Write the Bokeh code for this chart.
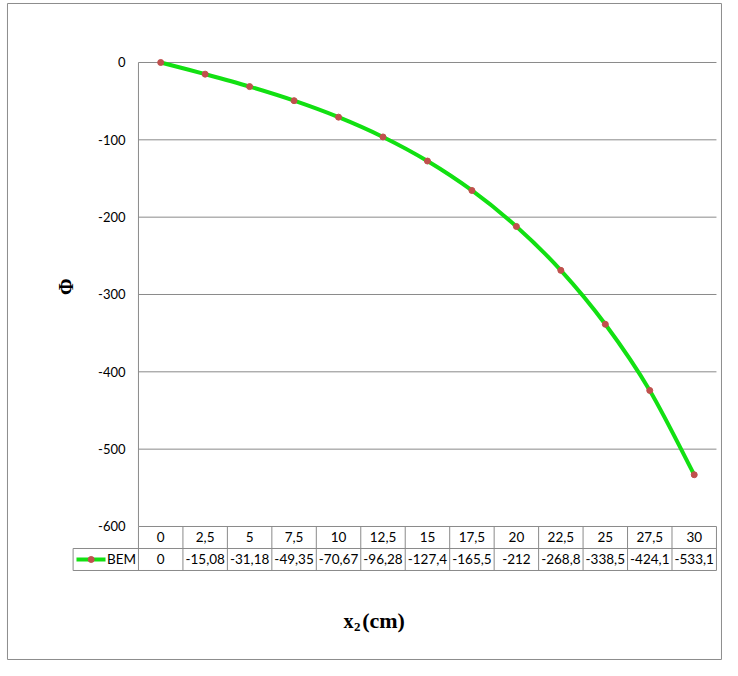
import numpy as np
from bokeh.plotting import figure
from bokeh.models import Range1d
from bokeh.embed import file_html
from bokeh.resources import INLINE
from bokeh.core.properties import value

# ---- data ----
x_cm = [0, 2.5, 5, 7.5, 10, 12.5, 15, 17.5, 20, 22.5, 25, 27.5, 30]
bem = [0, -15.08, -31.18, -49.35, -70.67, -96.28, -127.4, -165.5, -212,
       -268.8, -338.5, -424.1, -533.1]
y_ticks = [0, -100, -200, -300, -400, -500, -600]
series_name = "BEM"
y_title = "Φ"
x_title_main = "x"
x_title_sub = "2"
x_title_unit = "(cm)"


def fmt(v):
    return f"{v:g}".replace(".", ",")


n = len(x_cm)
idx = np.arange(n, dtype=float)
y = np.array(bem, dtype=float)

GREEN = "#12e012"
MARK = "#c0504d"
GRID = "#8a8a8a"
FONT = value("Lato")
SERIF = value("Liberation Serif")

p = figure(width=722, height=660,
           x_range=Range1d(-3.603, 12.636), y_range=Range1d(-773.3, 80.17),
           x_axis_type=None, y_axis_type=None,
           output_backend="svg", toolbar_location=None,
           min_border=0, min_border_left=0, min_border_right=0,
           min_border_top=0, min_border_bottom=0)
p.outline_line_color = None
p.background_fill_color = "white"
p.border_fill_color = "white"

# outer chart border
p.quad(left=[-3.446], right=[12.613], top=[76.3], bottom=[-772.0],
       fill_color=None, line_color="#8c8c8c", line_width=1)

left = -0.5
right = n - 0.5
ymin = y_ticks[-1]

# gridlines
gt = y_ticks[:-1]
p.segment(x0=[left] * len(gt), y0=gt, x1=[right] * len(gt), y1=gt,
          line_color=GRID, line_width=1)
# vertical axis line
p.segment(x0=[left], y0=[y_ticks[0]], x1=[left], y1=[ymin],
          line_color=GRID, line_width=1)

# y tick labels
p.text(x=[-0.79] * len(y_ticks), y=y_ticks, text=[fmt(t) for t in y_ticks],
       text_align="right", text_baseline="middle", text_font=FONT,
       text_font_size="13px", text_color="#000000")

# data table
row_h = 28.45
r1_top, r1_bot, r2_bot = ymin, ymin - row_h, ymin - 2 * row_h
leg_left = -1.97
p.segment(x0=[left, leg_left, leg_left], y0=[r1_top, r1_bot, r2_bot],
          x1=[right, right, right], y1=[r1_top, r1_bot, r2_bot],
          line_color=GRID, line_width=1)
vx = [left + k for k in range(n + 1)]
p.segment(x0=vx, y0=[r1_top] * len(vx), x1=vx, y1=[r2_bot] * len(vx),
          line_color=GRID, line_width=1)
p.segment(x0=[leg_left], y0=[r1_bot], x1=[leg_left], y1=[r2_bot],
          line_color=GRID, line_width=1)

p.text(x=idx, y=[(r1_top + r1_bot) / 2] * n, text=[fmt(v) for v in x_cm],
       text_align="center", text_baseline="middle", text_font=FONT,
       text_font_size="13.5px", text_color="#000000")
p.text(x=idx, y=[(r1_bot + r2_bot) / 2] * n, text=[fmt(v) for v in bem],
       text_align="center", text_baseline="middle", text_font=FONT,
       text_font_size="13.5px", text_color="#000000")

# legend key in table
ly = (r1_bot + r2_bot) / 2
p.segment(x0=[-1.894], y0=[ly], x1=[-1.241], y1=[ly], line_color=GREEN,
          line_width=4)
p.scatter(x=[-1.563], y=[ly], size=6, fill_color=MARK, line_color=MARK)
p.text(x=[-1.208], y=[ly], text=[series_name], text_align="left",
       text_baseline="middle", text_font=FONT, text_font_size="13.5px",
       text_color="#000000")

# smoothed series line (Catmull-Rom -> cubic Bezier segments)
P = np.column_stack([idx, y])
Pe = np.vstack([P[0], P, P[-1]])
x0s, y0s, x1s, y1s, cx0, cy0, cx1, cy1 = ([] for _ in range(8))
for i in range(n - 1):
    pm, p0, p1, p2 = Pe[i], Pe[i + 1], Pe[i + 2], Pe[i + 3]
    c1 = p0 + (p1 - pm) / 6.0
    c2 = p1 - (p2 - p0) / 6.0
    x0s.append(p0[0]); y0s.append(p0[1]); x1s.append(p1[0]); y1s.append(p1[1])
    cx0.append(c1[0]); cy0.append(c1[1]); cx1.append(c2[0]); cy1.append(c2[1])
p.bezier(x0=x0s, y0=y0s, x1=x1s, y1=y1s, cx0=cx0, cy0=cy0, cx1=cx1, cy1=cy1,
         line_color=GREEN, line_width=4)
p.scatter(x=idx, y=y, size=6, fill_color=MARK, line_color=MARK)

# axis titles
p.text(x=[-2.141], y=[-290.0], text=[y_title], angle=np.pi / 2,
       text_align="center", text_baseline="middle", text_font=SERIF,
       text_font_style="bold", text_font_size="20px", text_color="#000000")
p.text(x=[4.111], y=[-721.6], text=[x_title_main], text_align="left",
       text_baseline="middle", text_font=SERIF, text_font_style="bold",
       text_font_size="20px", text_color="#000000")
p.text(x=[4.348], y=[-730.0], text=[x_title_sub], text_align="left",
       text_baseline="middle", text_font=SERIF, text_font_style="bold",
       text_font_size="13px", text_color="#000000")
p.text(x=[4.532], y=[-721.0], text=[x_title_unit], text_align="left",
       text_baseline="middle", text_font=SERIF, text_font_style="bold",
       text_font_size="22px", text_color="#000000")

open("out.html", "w").write(file_html(p, INLINE))
